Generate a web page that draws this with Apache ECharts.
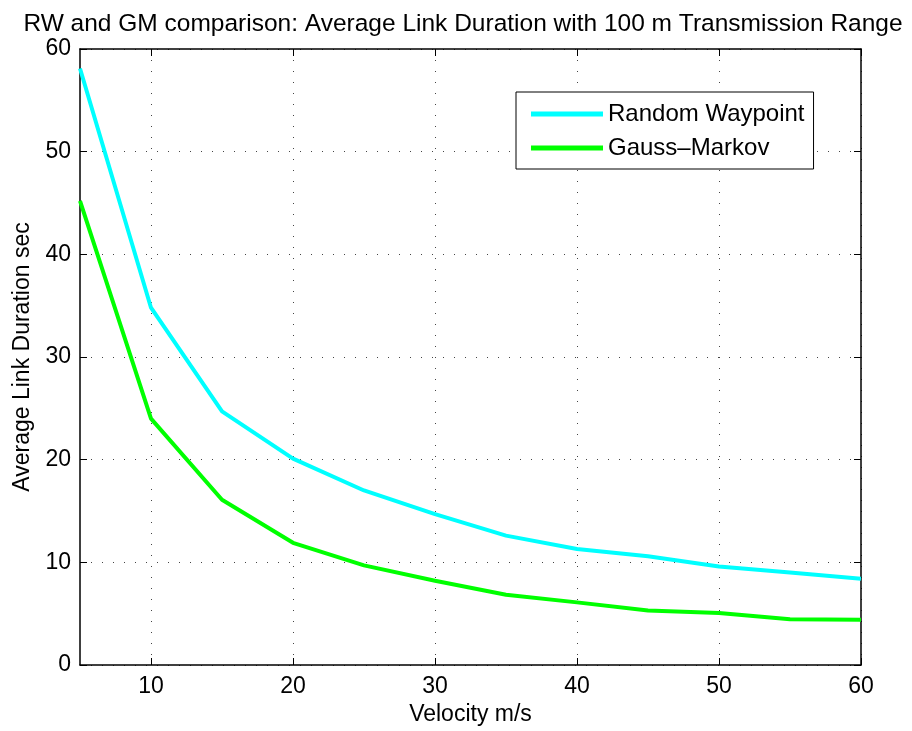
<!DOCTYPE html>
<html>
<head>
<meta charset="utf-8">
<script src="https://cdn.jsdelivr.net/npm/echarts@6/dist/echarts.min.js"></script>
<style>
  html, body { margin: 0; padding: 0; background: #fff; }
  #chart { width: 912px; height: 731px; }
</style>
</head>
<body>
<div id="chart"></div>
<script>
// Velocity steps (m/s)
const velocity = [5, 10, 15, 20, 25, 30, 35, 40, 45, 50, 55, 60];
// Average link duration (sec) per mobility model
const randomWaypoint = [58.1, 34.8, 24.7, 20.1, 17.0, 14.7, 12.6, 11.3, 10.6, 9.6, 9.0, 8.4];
const gaussMarkov = [45.2, 24.0, 16.1, 11.9, 9.7, 8.2, 6.85, 6.1, 5.3, 5.07, 4.45, 4.4];
const xTicks = [10, 20, 30, 40, 50, 60];

const font = 'Liberation Sans, Arial, sans-serif';
const chart = echarts.init(document.getElementById('chart'), null, { renderer: 'canvas' });

const gridLine = { show: true, lineStyle: { color: '#444', type: [1, 10], width: 1 } };
const tickStyle = { show: true, inside: true, length: 7, lineStyle: { color: '#000', width: 1 } };
const frameLine = { show: true, onZero: false, lineStyle: { color: '#000', width: 1.5 } };

chart.setOption({
  animation: false,
  backgroundColor: '#fff',
  title: {
    text: 'RW and GM comparison: Average Link Duration with 100 m Transmission Range',
    left: 458, top: 7, textAlign: 'center',
    textStyle: { fontFamily: font, fontSize: 24.5, fontWeight: 'normal', color: '#000' }
  },
  grid: { left: 80, right: 51, top: 49, bottom: 66, containLabel: false },
  legend: {
    orient: 'vertical', left: 516, top: 92,
    icon: 'rect', itemWidth: 72, itemHeight: 5, itemGap: 10,
    padding: [10, 9, 9, 15],
    borderColor: '#000', borderWidth: 1, backgroundColor: '#fff',
    textStyle: { fontFamily: font, fontSize: 24, color: '#000', padding: [0, 0, 0, 0] },
    data: ['Random Waypoint', 'Gauss\u2013Markov']
  },
  xAxis: [{
    type: 'value', min: 5, max: 60,
    name: 'Velocity m/s', nameLocation: 'middle', nameGap: 33,
    nameTextStyle: { fontFamily: font, fontSize: 23, color: '#000' },
    axisLine: frameLine,
    axisTick: Object.assign({ customValues: xTicks }, tickStyle),
    axisLabel: { customValues: xTicks, fontFamily: font, fontSize: 23, color: '#000', margin: 10 },
    splitLine: gridLine
  }, {
    type: 'value', min: 5, max: 60, position: 'top',
    axisLine: frameLine,
    axisTick: Object.assign({ customValues: xTicks }, tickStyle),
    axisLabel: { show: false }, splitLine: { show: false }
  }],
  yAxis: [{
    type: 'value', min: 0, max: 60, interval: 10,
    name: 'Average Link Duration sec', nameLocation: 'middle', nameGap: 41,
    nameTextStyle: { fontFamily: font, fontSize: 23, color: '#000' },
    axisLine: frameLine,
    axisTick: tickStyle,
    axisLabel: { fontFamily: font, fontSize: 23, color: '#000', margin: 9 },
    splitLine: gridLine
  }, {
    type: 'value', min: 0, max: 60, interval: 10, position: 'right',
    axisLine: frameLine,
    axisTick: tickStyle,
    axisLabel: { show: false }, splitLine: { show: false }
  }],
  series: [{
    name: 'Random Waypoint', type: 'line', showSymbol: false, symbol: 'none',
    lineStyle: { color: '#00FFFF', width: 4 }, itemStyle: { color: '#00FFFF' },
    data: velocity.map((v, i) => [v, randomWaypoint[i]])
  }, {
    name: 'Gauss\u2013Markov', type: 'line', showSymbol: false, symbol: 'none',
    lineStyle: { color: '#00FF00', width: 4 }, itemStyle: { color: '#00FF00' },
    data: velocity.map((v, i) => [v, gaussMarkov[i]])
  }]
});
</script>
</body>
</html>
